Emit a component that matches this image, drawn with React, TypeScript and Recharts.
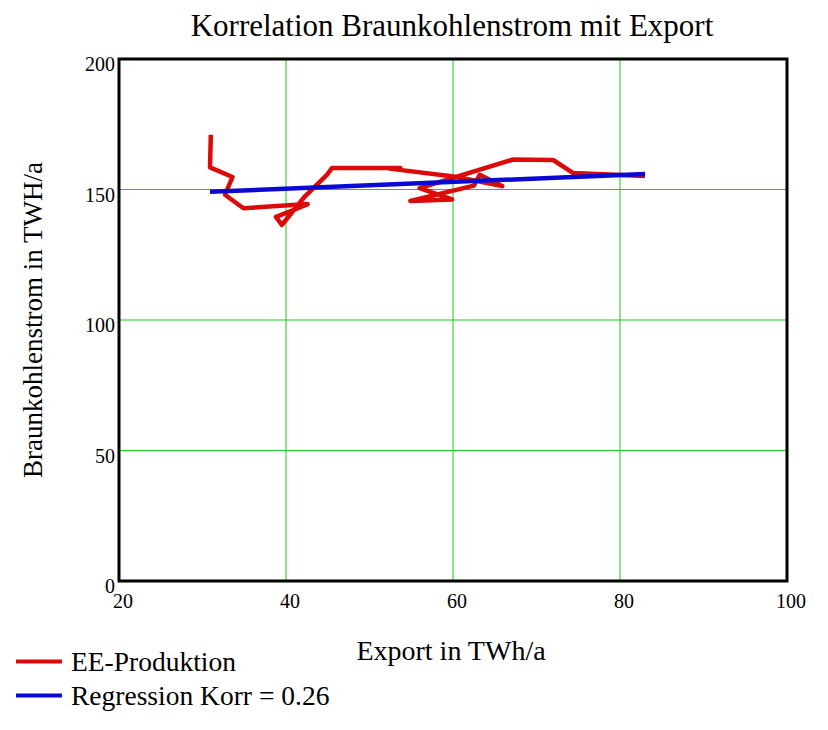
import React from 'react';
import {
  LineChart,
  Line,
  XAxis,
  YAxis,
  CartesianGrid,
  ReferenceArea,
} from 'recharts';

// Jahreswerte 1990-2015
const years = [
  1990, 1991, 1992, 1993, 1994, 1995, 1996, 1997, 1998, 1999, 2000, 2001, 2002,
  2003, 2004, 2005, 2006, 2007, 2008, 2009, 2010, 2011, 2012, 2013, 2014, 2015,
];
const exportTWh = [
  31.0, 30.9, 33.6, 32.7, 33.8, 34.9, 42.6, 40.8, 38.8, 39.5, 42.3, 44.9, 45.5,
  53.7, 52.4, 60.3, 65.9, 63.2, 62.5, 54.9, 59.9, 56.0, 67.2, 72.0, 74.4, 83.0,
];
const braunkohleTWh = [
  171.0, 158.5, 154.8, 148.0, 145.4, 142.8, 144.4, 142.0, 139.5, 136.4, 147.5,
  155.6, 158.2, 158.2, 158.0, 154.9, 151.3, 155.6, 151.5, 145.6, 146.2, 150.5,
  161.5, 161.3, 156.3, 155.2,
];

// Regressionsgerade (Anfang / Ende)
const regX = [30.9, 83.0];
const regY = [149.1, 155.9];

const xTicks = [20, 40, 60, 80, 100];
const yTicks = [0, 50, 100, 150, 200];

const eeData = years.map((year, i) => ({ year, x: exportTWh[i], y: braunkohleTWh[i] }));
const regData = regX.map((x, i) => ({ x, y: regY[i] }));

const FONT = '"Liberation Serif", "Times New Roman", serif';
const RED = '#dd0a0a';
const BLUE = '#0a0ad2';
const GREEN = '#1ec81e';

const YTick = ({ x, y, payload }: any) => (
  <text x={x} y={y + 12} textAnchor="end" fontSize={20} fontFamily={FONT} fill="#000">
    {payload.value}
  </text>
);

const XTick = ({ x, y, payload }: any) => (
  <text x={x + 4} y={y + 27} textAnchor="middle" fontSize={20} fontFamily={FONT} fill="#000">
    {payload.value}
  </text>
);

export default function App() {
  return (
    <div style={{ position: 'absolute', left: 0, top: 0, width: 828, height: 730, background: '#fff' }}>
      <LineChart
        width={828}
        height={730}
        margin={{ top: 59, right: 41, bottom: 119, left: 59 }}
      >
        <CartesianGrid
          stroke={GREEN}
          strokeWidth={1}
          horizontalValues={[50, 100, 150]}
          verticalValues={[40, 60, 80]}
        />
        <XAxis
          type="number"
          dataKey="x"
          domain={[20, 100]}
          ticks={xTicks}
          height={30}
          axisLine={false}
          tickLine={false}
          tickSize={0}
          tickMargin={0}
          tick={<XTick />}
          allowDataOverflow
        />
        <YAxis
          type="number"
          dataKey="y"
          domain={[0, 200]}
          ticks={yTicks}
          width={60}
          axisLine={false}
          tickLine={false}
          tickSize={0}
          tickMargin={4}
          tick={<YTick />}
          allowDataOverflow
        />
        <ReferenceArea
          x1={20}
          x2={100}
          y1={0}
          y2={200}
          fill="none"
          fillOpacity={0}
          stroke="#000"
          strokeWidth={3}
          ifOverflow="visible"
        />
        <Line
          data={eeData}
          dataKey="y"
          type="linear"
          stroke={RED}
          strokeWidth={4.5}
          strokeLinejoin="round"
          dot={false}
          isAnimationActive={false}
        />
        <Line
          data={regData}
          dataKey="y"
          type="linear"
          stroke={BLUE}
          strokeWidth={4.5}
          dot={false}
          isAnimationActive={false}
        />
      </LineChart>
      <svg
        width={828}
        height={730}
        style={{ position: 'absolute', left: 0, top: 0, pointerEvents: 'none' }}
      >
        <text x={452} y={36} textAnchor="middle" fontSize={31} fontFamily={FONT} fill="#000">
          Korrelation Braunkohlenstrom mit Export
        </text>
        <text x={451} y={660} textAnchor="middle" fontSize={28} fontFamily={FONT} fill="#000">
          Export in TWh/a
        </text>
        <text
          x={42}
          y={320}
          textAnchor="middle"
          fontSize={27}
          fontFamily={FONT}
          fill="#000"
          transform="rotate(-90 42 320)"
        >
          Braunkohlenstrom in TWH/a
        </text>
        <line x1={16} y1={661.5} x2={62} y2={661.5} stroke={RED} strokeWidth={4} />
        <text x={71} y={671} fontSize={27.5} fontFamily={FONT} fill="#000">
          EE-Produktion
        </text>
        <line x1={16} y1={695.5} x2={62} y2={695.5} stroke={BLUE} strokeWidth={4} />
        <text x={71} y={705} fontSize={27.5} fontFamily={FONT} fill="#000">
          Regression Korr = 0.26
        </text>
      </svg>
    </div>
  );
}
